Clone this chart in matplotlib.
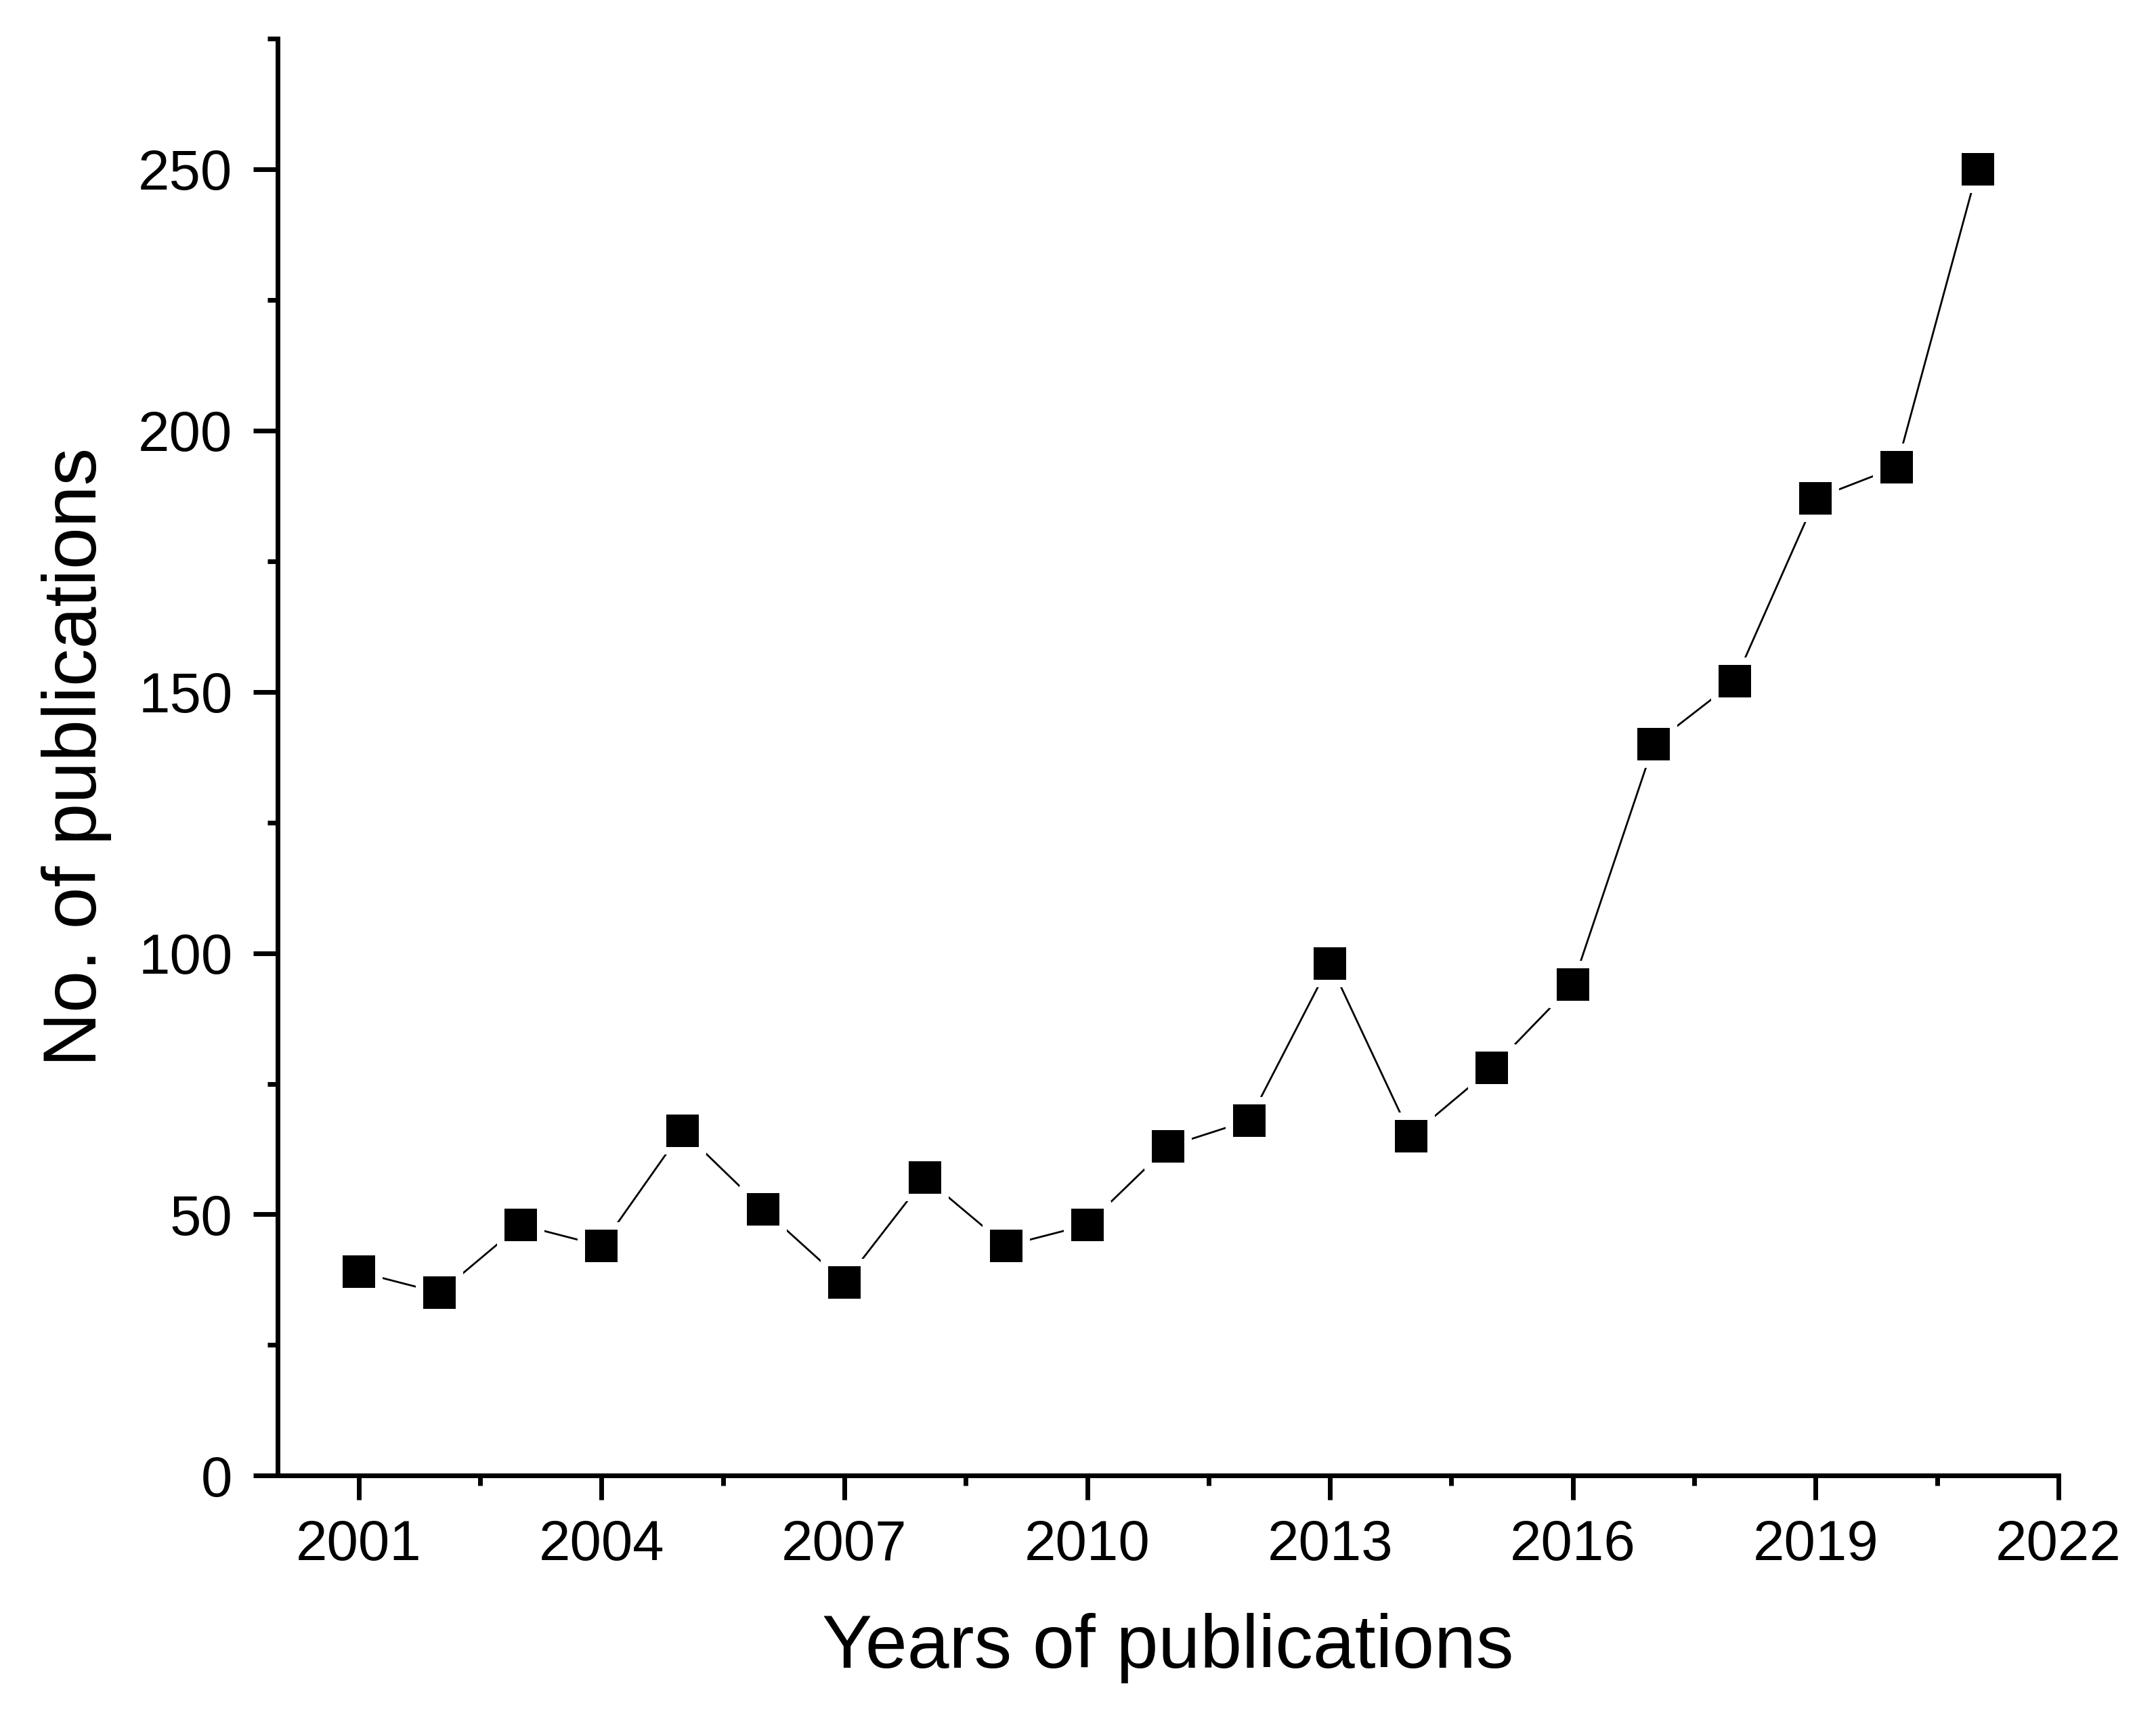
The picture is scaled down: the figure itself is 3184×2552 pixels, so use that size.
"""Publications per year, Origin-style line + square markers."""

import matplotlib
matplotlib.use("Agg")
import matplotlib.pyplot as plt
from matplotlib.ticker import MultipleLocator

years = [2001, 2002, 2003, 2004, 2005, 2006, 2007, 2008, 2009, 2010, 2011,
         2012, 2013, 2014, 2015, 2016, 2017, 2018, 2019, 2020, 2021]
publications = [39, 35, 48, 44, 66, 51, 37, 57, 44, 48, 63,
                68, 98, 65, 78, 94, 140, 152, 187, 193, 250]

x_label = "Years of publications"
y_label = "No. of publications"

plt.rcParams['font.family'] = ['Liberation Sans', 'DejaVu Sans']

fig = plt.figure(figsize=(15.92, 12.76), dpi=200)
ax = fig.add_axes([0.1288, 0.146, 0.826, 0.8317])

# thin connecting line, white halo squares give the Origin-style gap
ax.plot(years, publications, color='black', linewidth=1.0, zorder=2)
ax.plot(years, publications, linestyle='none', marker='s', markersize=25,
        markerfacecolor='white', markeredgewidth=0, zorder=3)
ax.plot(years, publications, linestyle='none', marker='s', markersize=17,
        markerfacecolor='black', markeredgewidth=0, zorder=4)

ax.set_xlim(2000, 2022)
ax.set_ylim(0, 275)
ax.xaxis.set_major_locator(MultipleLocator(3))
ax.xaxis.set_minor_locator(MultipleLocator(1.5))
ax.yaxis.set_major_locator(MultipleLocator(50))
ax.yaxis.set_minor_locator(MultipleLocator(25))
ax.set_xticks(range(2001, 2023, 3))

for side in ['top', 'right']:
    ax.spines[side].set_visible(False)
for side in ['left', 'bottom']:
    ax.spines[side].set_linewidth(2.5)

ax.tick_params(which='major', direction='out', length=13, width=2.5,
               labelsize=30, pad=10)
ax.tick_params(which='minor', direction='out', length=5.5, width=2.5)
ax.tick_params(axis='y', which='major', pad=11)

ax.set_xlabel(x_label, fontsize=40, labelpad=22)
ax.set_ylabel(y_label, fontsize=40, labelpad=14)

fig.savefig("out.png", dpi=200)
